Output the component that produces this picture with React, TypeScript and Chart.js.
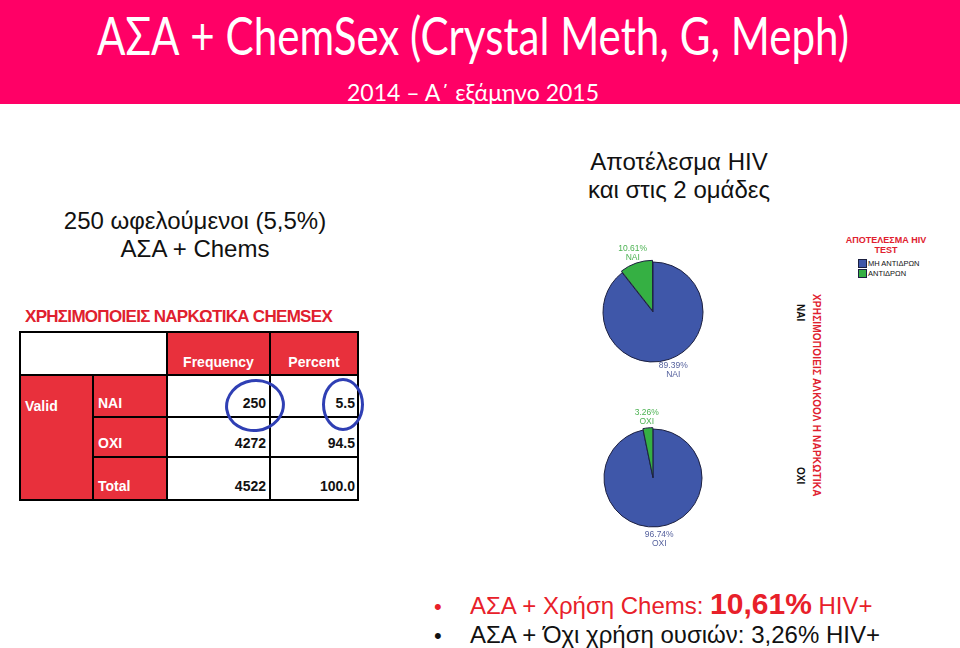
import React, { useEffect, useRef } from "react";
import { Chart, registerables } from "chart.js";

Chart.register(...registerables);

// ---- data ----
const hivResults = ["ΜΗ ΑΝΤΙΔΡΩΝ", "ΑΝΤΙΔΡΩΝ"];
const groups = ["ΝΑΙ", "ΟΧΙ"];
const chemsUsersPct = [89.39, 10.61];
const nonUsersPct = [96.74, 3.26];
const tableRows = ["ΝΑΙ", "ΟΧΙ", "Total"];
const tableFreq = ["250", "4272", "4522"];
const tablePct = ["5.5", "94.5", "100.0"];

// ---- styles ----
const sliceColors = ["#3f57a9", "#35b043"];
const labelColors = ["#56629e", "#4cb252"];
const PINK = "#ff0066";
const TRED = "#e8303c";
const ARIAL = "'Liberation Sans', Arial, sans-serif";

type PieProps = {
  values: number[];
  group: string;
  cx: number;
  cy: number;
  radius: number;
  offset: number;
};

function Pie({ values, group, cx, cy, radius, offset }: PieProps) {
  const ref = useRef<HTMLCanvasElement | null>(null);
  const size = 150;
  useEffect(() => {
    const labelPlugin = {
      id: "sliceLabels",
      afterDatasetsDraw(chart: any) {
        const ctx = chart.ctx;
        const meta = chart.getDatasetMeta(0);
        meta.data.forEach((arc: any, i: number) => {
          const p = arc.getProps(["x", "y", "startAngle", "endAngle", "outerRadius"], true);
          const mid = (p.startAngle + p.endAngle) / 2;
          const d = p.outerRadius + 12;
          const x = p.x + Math.cos(mid) * d;
          const y = p.y + Math.sin(mid) * d;
          ctx.save();
          ctx.fillStyle = labelColors[i];
          ctx.font = "8.5px " + ARIAL;
          ctx.textAlign = "center";
          ctx.textBaseline = "middle";
          ctx.fillText(values[i].toFixed(2) + "%", x, y - 4.5);
          ctx.fillText(group, x, y + 4.5);
          ctx.restore();
        });
      },
    };
    const chart = new Chart(ref.current as HTMLCanvasElement, {
      type: "pie",
      data: {
        labels: hivResults,
        datasets: [
          {
            data: values,
            backgroundColor: sliceColors,
            borderColor: "#1c2040",
            borderWidth: 1,
            offset: [0, offset],
          },
        ],
      },
      options: {
        animation: false,
        responsive: false,
        radius: radius,
        layout: { padding: 0 },
        plugins: { legend: { display: false }, tooltip: { enabled: false } },
      } as any,
      plugins: [labelPlugin],
    });
    return () => chart.destroy();
  }, []);
  return (
    <canvas
      ref={ref}
      width={size}
      height={size}
      style={{ position: "absolute", left: cx - size / 2, top: cy - size / 2, width: size, height: size }}
    />
  );
}

const abs = (s: React.CSSProperties): React.CSSProperties => ({ position: "absolute", ...s });

function Table() {
  const xs = [20, 93, 167, 270, 358];
  const ys = [332, 375, 417, 457, 500];
  const cell = (x0: number, y0: number, x1: number, y1: number, bg: string, key: string, content?: React.ReactNode, style?: React.CSSProperties) => (
    <div
      key={key}
      style={abs({
        left: x0 + 1,
        top: y0 + 1,
        width: x1 - x0 - 2,
        height: y1 - y0 - 2,
        background: bg,
        boxSizing: "border-box",
        fontFamily: ARIAL,
        fontWeight: "bold",
        fontSize: 14,
        display: "flex",
        ...style,
      })}
    >
      {content}
    </div>
  );
  const cells: React.ReactNode[] = [];
  cells.push(cell(xs[0], ys[0], xs[2], ys[1], "#fff", "blank"));
  cells.push(cell(xs[2], ys[0], xs[3], ys[1], TRED, "hf", "Frequency", { color: "#fff", alignItems: "flex-end", justifyContent: "center", paddingBottom: 4 }));
  cells.push(cell(xs[3], ys[0], xs[4], ys[1], TRED, "hp", "Percent", { color: "#fff", alignItems: "flex-end", justifyContent: "center", paddingBottom: 4 }));
  cells.push(cell(xs[0], ys[1], xs[1], ys[4], TRED, "valid", "Valid", { color: "#fff", paddingLeft: 4, paddingTop: 22 }));
  tableRows.forEach((r, i) => {
    cells.push(cell(xs[1], ys[i + 1], xs[2], ys[i + 2], TRED, "r" + i, r, { color: "#fff", alignItems: "flex-end", paddingLeft: 4, paddingBottom: 5 }));
    cells.push(cell(xs[2], ys[i + 1], xs[3], ys[i + 2], "#fff", "f" + i, tableFreq[i], { color: "#111", alignItems: "flex-end", justifyContent: "flex-end", paddingRight: 3, paddingBottom: 5 }));
    cells.push(cell(xs[3], ys[i + 1], xs[4], ys[i + 2], "#fff", "p" + i, tablePct[i], { color: "#111", alignItems: "flex-end", justifyContent: "flex-end", paddingRight: 2, paddingBottom: 5 }));
  });
  return (
    <>
      <div
        style={abs({
          left: 25,
          top: 307,
          fontFamily: ARIAL,
          fontWeight: "bold",
          fontSize: 17,
          color: "#e0202e",
          letterSpacing: -0.7,
          whiteSpace: "nowrap",
        })}
      >
        ΧΡΗΣΙΜΟΠΟΙΕΙΣ ΝΑΡΚΩΤΙΚΑ CHEMSEX
      </div>
      <div style={abs({ left: xs[0] - 1, top: ys[0] - 1, width: xs[4] - xs[0] + 2, height: ys[4] - ys[0] + 2, background: "#000" })} />
      {cells}
      <div style={abs({ left: 225, top: 379, width: 60, height: 53, border: "3px solid #2f3fb4", borderRadius: "50%", boxSizing: "border-box", transform: "rotate(-8deg)" })} />
      <div style={abs({ left: 322, top: 378, width: 42, height: 53, border: "3px solid #2f3fb4", borderRadius: "50%", boxSizing: "border-box" })} />
    </>
  );
}

export default function App() {
  return (
    <div style={abs({ left: 0, top: 0, width: 960, height: 648, background: "#fff", overflow: "hidden" })}>
      <div style={abs({ left: 0, top: 0, width: 960, height: 104, background: PINK })} />
      <div
        style={abs({
          left: 0,
          top: 4,
          width: 946,
          textAlign: "center",
          color: "#fff",
          fontFamily: "Lato, sans-serif",
          fontSize: 52,
          lineHeight: 1.2,
          whiteSpace: "nowrap",
          transform: "scaleX(0.81)",
          transformOrigin: "473px 0",
        })}
      >
        ΑΣΑ + ChemSex (Crystal Meth, G, Meph)
      </div>
      <div
        style={abs({
          left: 0,
          top: 79,
          width: 946,
          textAlign: "center",
          color: "#fff",
          fontFamily: "Lato, sans-serif",
          fontSize: 23,
          lineHeight: 1.2,
          whiteSpace: "nowrap",
        })}
      >
        2014 – Α΄ εξάμηνο 2015
      </div>

      <div style={abs({ left: 40, top: 207, width: 310, textAlign: "center", fontFamily: ARIAL, fontSize: 24, lineHeight: "28px", color: "#111" })}>
        250 ωφελούμενοι (5,5%)
        <br />
        ΑΣΑ + Chems
      </div>

      <div style={abs({ left: 529, top: 148, width: 300, textAlign: "center", fontFamily: ARIAL, fontSize: 24, lineHeight: "28px", color: "#111" })}>
        Αποτέλεσμα HIV
        <br />
        και στις 2 ομάδες
      </div>

      <Pie values={chemsUsersPct} group={groups[0]} cx={653} cy={312} radius={50} offset={5} />
      <Pie values={nonUsersPct} group={groups[1]} cx={653} cy={478} radius={49} offset={3} />

      {/* legend */}
      <div style={abs({ left: 836, top: 236, width: 100, textAlign: "center", fontFamily: ARIAL, fontWeight: "bold", fontSize: 9, lineHeight: "9.5px", color: "#e0202e" })}>
        ΑΠΟΤΕΛΕΣΜΑ HIV
        <br />
        TEST
      </div>
      {hivResults.map((r, i) => (
        <div key={r} style={abs({ left: 858, top: 259 + i * 10, display: "flex", alignItems: "center", fontFamily: ARIAL, fontSize: 7.5, color: "#111", whiteSpace: "nowrap" })}>
          <span style={{ display: "inline-block", width: 7, height: 7, background: sliceColors[i], border: "1px solid #1c2040", marginRight: 1 }} />
          {r}
        </div>
      ))}

      {/* row axis labels */}
      <div style={abs({ left: 811, top: 294, height: 205, writingMode: "vertical-rl", fontFamily: ARIAL, fontWeight: "bold", fontSize: 10, color: "#e0202e", whiteSpace: "nowrap", letterSpacing: 0.2 })}>
        ΧΡΗΣΙΜΟΠΟΙΕΙΣ ΑΛΚΟΟΛ Η ΝΑΡΚΩΤΙΚΑ
      </div>
      <div style={abs({ left: 795, top: 304, writingMode: "vertical-rl", fontFamily: ARIAL, fontWeight: "bold", fontSize: 10, color: "#111" })}>{groups[0]}</div>
      <div style={abs({ left: 795, top: 467, writingMode: "vertical-rl", fontFamily: ARIAL, fontWeight: "bold", fontSize: 10, color: "#111" })}>{groups[1]}</div>

      <Table />

      {/* bullets */}
      <div style={abs({ left: 434, top: 590, height: 28, fontFamily: ARIAL, fontSize: 24, color: "#e8202a", whiteSpace: "nowrap", lineHeight: "28px" })}>
        <span style={{ display: "inline-block", width: 36, fontSize: 22 }}>•</span>
        ΑΣΑ + Χρήση Chems: <b style={{ fontSize: 30, lineHeight: "28px" }}>10,61%</b> HIV+
      </div>
      <div style={abs({ left: 434, top: 621, height: 27, fontFamily: ARIAL, fontSize: 24, color: "#111", whiteSpace: "nowrap", lineHeight: "27px" })}>
        <span style={{ display: "inline-block", width: 36, fontSize: 22 }}>•</span>
        ΑΣΑ + Όχι χρήση ουσιών: 3,26% HIV+
      </div>
    </div>
  );
}
